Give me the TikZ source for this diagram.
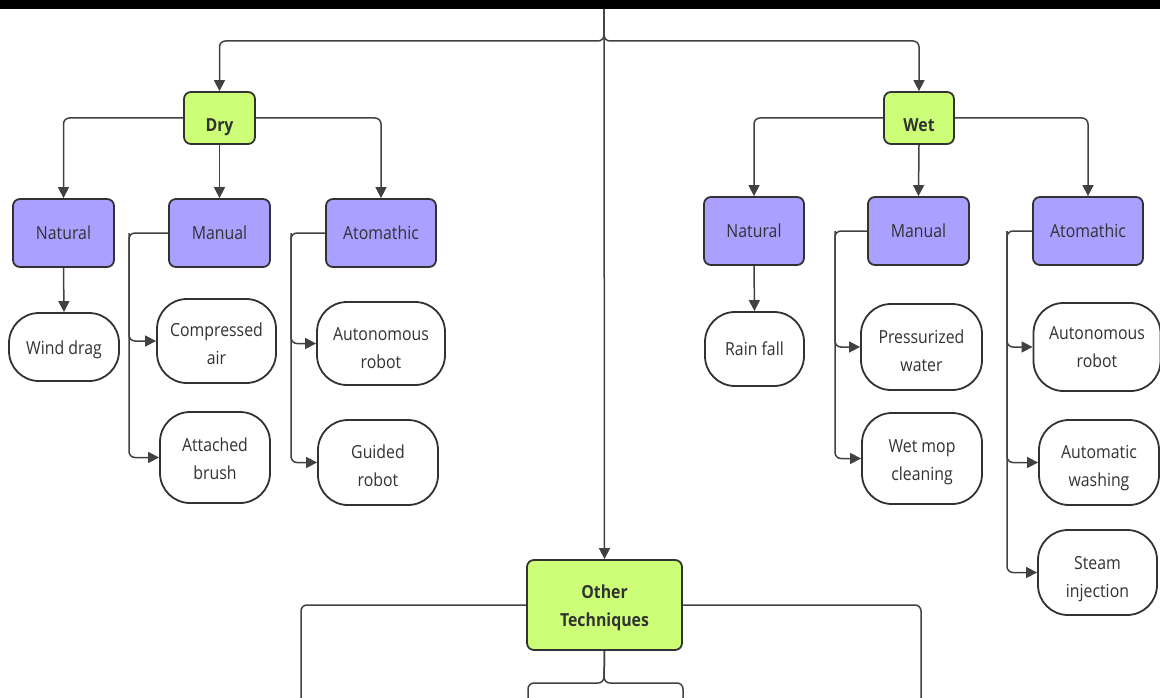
\documentclass[tikz,border=0pt]{standalone}
\usepackage{fontspec}
\setmainfont{Open Sans}[FakeStretch=0.88]
\usetikzlibrary{arrows.meta}
\definecolor{lime}{RGB}{204,255,119}
\definecolor{lav}{RGB}{170,160,255}
\definecolor{ink}{RGB}{50,50,50}
\definecolor{wire}{RGB}{65,65,65}
\newcommand\lowtxt[2]{\raisebox{-#1}[\height][\depth]{\begin{tabular}{@{}c@{}}#2\end{tabular}}}
\begin{document}
\begin{tikzpicture}[x=1pt,y=-1pt,
  font=\fontsize{18}{28}\selectfont,
  base/.style={draw=ink, line width=1.8pt, text=ink, align=center, inner sep=0pt},
  grp/.style={base, fill=lime, rounded corners=7pt, font=\fontsize{18}{28}\selectfont\bfseries},
  sub/.style={base, fill=lav, rounded corners=7pt, minimum height=68pt},
  leaf/.style={base, fill=white, rounded corners=30pt},
  conn/.style={draw=wire, line width=1.5pt, rounded corners=6pt},
  arr/.style={conn, -{Triangle[length=11pt,width=11pt]}}]
\clip (0,0) rectangle (1160,698);
\fill[black] (0,0) rectangle (1160,9);

% top level groups
\node[grp, minimum width=71pt, minimum height=52pt] (dry) at (219.5,118) {\lowtxt{8pt}{Dry}};
\node[grp, minimum width=70pt, minimum height=52pt] (wet) at (919,118) {\lowtxt{8pt}{Wet}};
\node[grp, minimum width=155pt, minimum height=90pt] (oth) at (604.5,605) {\lowtxt{2pt}{Other\\Techniques}};

% dry sub categories
\node[sub, minimum width=101pt] (dnat) at (63.5,233) {Natural};
\node[sub, minimum width=101pt] (dman) at (219.5,233) {Manual};
\node[sub, minimum width=110pt] (daut) at (381,233) {Atomathic};
% wet sub categories
\node[sub, minimum width=100pt] (wnat) at (754,231) {Natural};
\node[sub, minimum width=101pt] (wman) at (918.5,231) {Manual};
\node[sub, minimum width=110pt] (waut) at (1088,231) {Atomathic};

% dry leaves
\node[leaf, minimum width=110pt, minimum height=68pt] (wind) at (64,347) {\lowtxt{2pt}{Wind drag}};
\node[leaf, minimum width=119pt, minimum height=84pt] (comp) at (216.5,341) {\lowtxt{4pt}{Compressed\\air}};
\node[leaf, minimum width=110pt, minimum height=91pt] (brush) at (215,457.5) {\lowtxt{2pt}{Attached\\brush}};
\node[leaf, minimum width=128pt, minimum height=83pt] (darob) at (381,343.5) {\lowtxt{5pt}{Autonomous\\robot}};
\node[leaf, minimum width=120pt, minimum height=85pt] (guid) at (378,462.5) {\lowtxt{4pt}{Guided\\robot}};
% wet leaves
\node[leaf, minimum width=99pt, minimum height=74pt] (rain) at (754.5,349) {Rain fall};
\node[leaf, minimum width=121pt, minimum height=86pt] (pres) at (921.5,347) {\lowtxt{5pt}{Pressurized\\water}};
\node[leaf, minimum width=120pt, minimum height=91pt] (mop) at (922,458.5) {\lowtxt{2pt}{Wet mop\\cleaning}};
\node[leaf, minimum width=127pt, minimum height=88pt] (warob) at (1097,347) {\lowtxt{1pt}{Autonomous\\robot}};
\node[leaf, minimum width=120pt, minimum height=85pt] (wash) at (1099,462.5) {\lowtxt{4pt}{Automatic\\washing}};
\node[leaf, minimum width=119pt, minimum height=85pt] (steam) at (1097.5,572.5) {\lowtxt{5pt}{Steam\\injection}};

% coordinates
\coordinate (top) at (604,9);
\coordinate (split) at (604,41);
\coordinate (dmb) at (129,233);
\coordinate (dab) at (291,233);
\coordinate (wmb) at (835,231);
\coordinate (wab) at (1007,231);
\coordinate (oL) at (301,700);
\coordinate (oR) at (921,700);
\coordinate (osplit) at (604,683);
\coordinate (obL) at (528,700);
\coordinate (obR) at (683,700);

% top connectors
\draw[arr] (top) -- (split) -| (dry.north);
\draw[arr] (top) -- (split) -| (wet.north);
\draw[arr] (top) -- (oth.north);

% dry connectors
\draw[arr] (dry.west) -| (dnat.north);
\draw[arr] (dry.south) -- (dman.north);
\draw[arr] (dry.east) -| (daut.north);
\draw[arr] (dnat.south) -- (wind.north);
\draw[arr] (dman.west) -- (dmb) |- (comp.west);
\draw[arr] (dmb) |- (brush.west);
\draw[arr] (daut.west) -- (dab) |- (darob.west);
\draw[arr] (dab) |- (guid.west);

% wet connectors
\draw[arr] (wet.west) -| (wnat.north);
\draw[arr] (wet.south) -- (wman.north);
\draw[arr] (wet.east) -| (waut.north);
\draw[arr] (wnat.south) -- (rain.north);
\draw[arr] (wman.west) -- (wmb) |- (pres.west);
\draw[arr] (wmb) |- (mop.west);
\draw[arr] (waut.west) -- (wab) |- (warob.west);
\draw[arr] (wab) |- (wash.west);
\draw[arr] (wab) |- (steam.west);

% other techniques connectors
\draw[conn] (oth.west) -| (oL);
\draw[conn] (oth.east) -| (oR);
\draw[conn] (oth.south) -- (osplit) -| (obL);
\draw[conn] (oth.south) -- (osplit) -| (obR);
\end{tikzpicture}
\end{document}
